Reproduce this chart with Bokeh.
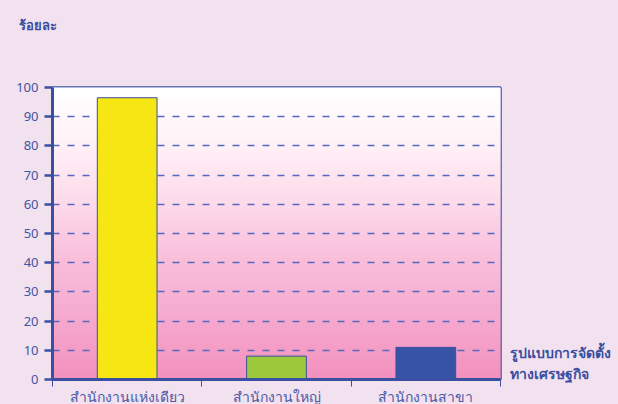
import numpy as np
from bokeh.plotting import figure
from bokeh.models import FixedTicker, Range1d, LinearAxis, Title
from bokeh.embed import file_html
from bokeh.resources import INLINE

categories = ["สำนักงานแห่งเดียว", "สำนักงานใหญ่", "สำนักงานสาขา"]
values = [96.5, 8.0, 11.0]
bar_colors = ["#f5e614", "#9cc83c", "#3753a5"]
y_ticks = [0, 10, 20, 30, 40, 50, 60, 70, 80, 90, 100]
y_label = "ร้อยละ"
x_label_lines = ["รูปแบบการจัดตั้ง", "ทางเศรษฐกิจ"]

W, H = 618, 410
BG = "#f2e1ee"
BLUE = "#3a4fa0"
FONT = "Noto Sans"

p = figure(width=W, height=H, output_backend="svg", toolbar_location=None,
           x_range=Range1d(0, 3), y_range=Range1d(0, 100),
           min_border_left=52, min_border_right=118, min_border_top=87, min_border_bottom=31)
p.background_fill_color = "#ffffff"
p.border_fill_color = BG
p.outline_line_color = BLUE
p.outline_line_width = 2.5

# vertical gradient background (styling only)
stop_pos = np.array([0, 20, 40, 60, 80, 100], dtype=float)
stop_rgb = np.array([[242, 144, 189], [245, 168, 205], [248, 188, 217],
                     [252, 217, 234], [255, 240, 246], [255, 255, 255]], dtype=float)
n = 100
edges = np.linspace(0, 100, n + 1)
mids = (edges[:-1] + edges[1:]) / 2
cols = []
for m in mids:
    rgb = [int(round(np.interp(m, stop_pos, stop_rgb[:, k]))) for k in range(3)]
    cols.append("#%02x%02x%02x" % tuple(rgb))
p.quad(left=0, right=3, bottom=edges[:-1], top=edges[1:], fill_color=cols,
       line_color=cols, line_width=1, level="image")

xs = [0.5, 1.5, 2.5]
p.vbar(x=xs, top=values, width=0.4, fill_color=bar_colors, line_color=BLUE, line_width=1)

# grids
p.xgrid.visible = False
p.ygrid.ticker = FixedTicker(ticks=y_ticks[1:-1])
p.ygrid.grid_line_color = "#5468c0"
p.ygrid.grid_line_dash = "7 8"
p.ygrid.grid_line_width = 1.3

# y axis
p.yaxis.ticker = FixedTicker(ticks=y_ticks)
p.yaxis.axis_line_color = BLUE
p.yaxis.axis_line_width = 3
p.yaxis.major_tick_line_color = BLUE
p.yaxis.major_tick_line_width = 2.5
p.yaxis.major_tick_out = 8
p.yaxis.major_tick_in = 0
p.yaxis.minor_tick_line_color = None
p.yaxis.major_label_text_color = "#3f55a5"
p.yaxis.major_label_text_font = FONT
p.yaxis.major_label_text_font_size = "13px"
p.yaxis.major_label_standoff = 6

# x axis
p.xaxis.ticker = FixedTicker(ticks=xs, minor_ticks=[0, 1, 2, 3])
p.xaxis.major_label_overrides = {0.5: categories[0], 1.5: categories[1], 2.5: categories[2]}
p.xaxis.axis_line_color = BLUE
p.xaxis.axis_line_width = 3
p.xaxis.major_tick_line_color = None
p.xaxis.major_tick_out = 0
p.xaxis.minor_tick_line_color = BLUE
p.xaxis.minor_tick_line_width = 1
p.xaxis.minor_tick_out = 7
p.xaxis.minor_tick_in = 0
p.xaxis.major_label_text_color = "#4a5aa8"
p.xaxis.major_label_text_font = FONT
p.xaxis.major_label_text_font_size = "14px"
p.xaxis.major_label_standoff = 0

# right-side axis title (two lines) drawn as labels of a bare right axis
right_pos = [9.3, 2.1]
ra = LinearAxis(ticker=FixedTicker(ticks=right_pos),
                major_label_overrides={right_pos[0]: x_label_lines[0], right_pos[1]: x_label_lines[1]},
                axis_line_color=None, major_tick_line_color=None, minor_tick_line_color=None,
                major_label_standoff=3, major_label_text_color=BLUE,
                major_label_text_font=FONT, major_label_text_font_size="14px",
                major_label_text_font_style="bold")
p.add_layout(ra, "right")

# y unit label at top-left (trailing blank lines lift it toward the top)
p.add_layout(Title(text=y_label + "\n\n\n", align="left", offset=-34, standoff=0,
                   text_color=BLUE, text_font=FONT, text_font_size="13px",
                   text_font_style="bold"), "above")

html = file_html(p, INLINE)
html = html.replace("</head>",
                    "<style>html,body{background:%s;overflow:hidden;}</style></head>" % BG, 1)
open("out.html", "w").write(html)
